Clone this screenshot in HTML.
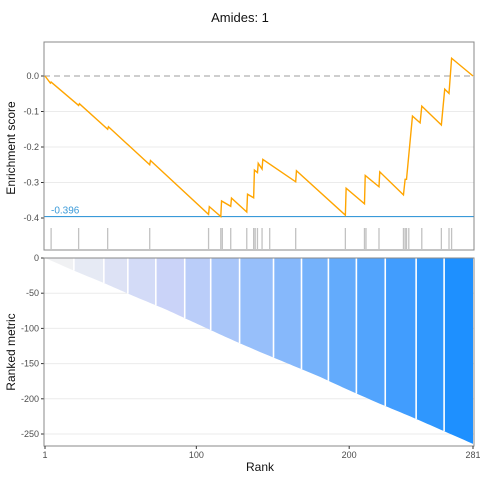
<!DOCTYPE html>
<html><head><meta charset="utf-8"><style>
body{margin:0;background:#fff;font-family:"Liberation Sans",sans-serif}
svg{display:block}
</style></head><body>
<svg id="c" width="480" height="480" xmlns="http://www.w3.org/2000/svg" font-family="Liberation Sans, sans-serif">
<text x="240" y="22" text-anchor="middle" font-size="13" fill="#111">Amides: 1</text>
<g id="topG"></g>
<g id="botG"></g>
<text transform="translate(15,148) rotate(-90)" text-anchor="middle" font-size="12" fill="#111">Enrichment score</text>
<text transform="translate(15,352) rotate(-90)" text-anchor="middle" font-size="12" fill="#111">Ranked metric</text>
<text x="260" y="471" text-anchor="middle" font-size="12" fill="#111">Rank</text>
</svg>
<script>
const esRanks=[1,4.5,5,23,23.5,42,42.5,69.5,70,108,108.5,116,116.5,122.5,123,133,133.5,137.5,138,140,140.5,143,143.5,165,165.5,197.5,198,210,210.5,219.5,220,235.5,236.6,237.5,241.4,246.4,247.5,260.3,262.5,265.3,267,281];
const esValues=[0,-0.02,-0.017,-0.083,-0.078,-0.15,-0.143,-0.25,-0.238,-0.39,-0.368,-0.396,-0.352,-0.367,-0.344,-0.383,-0.333,-0.343,-0.265,-0.272,-0.246,-0.262,-0.235,-0.298,-0.267,-0.392,-0.316,-0.36,-0.28,-0.312,-0.27,-0.335,-0.291,-0.291,-0.113,-0.132,-0.085,-0.138,-0.037,-0.049,0.05,0];
const hitRanks=[5,23,42,69.5,108,116,117,122.5,133,137.5,138.5,140,143,148,165,197.5,210,211,219.5,235.5,236.6,237.5,239,247.5,260.3,265.3,267];
const minES=-0.396;
const esTicks=[0,-0.1,-0.2,-0.3,-0.4];
const metricRanks=[1,20,40,60,80,100,120,140,160,180,200,220,240,260,281];
const metricValues=[0,-18,-36,-55,-73,-93,-113,-132,-150,-168,-188,-207,-225,-244,-264];
const bandEdges=[1,19.9,39.5,55.2,73.5,92.4,109.4,128.3,150.5,168.8,186.4,204.7,223.6,243.8,262.1,281];
const metricTicks=[0,-50,-100,-150,-200,-250];
const xTicks=[1,100,200,281];

const NS="http://www.w3.org/2000/svg";
const L=44,R=474,T1=42,B1=250,T2=258,B2=446;
const xs=r=>45+(r-1)*(473-45)/280;
const ys=v=>76-v*355;
const ym=v=>T2-v*0.704;
function mk(p,tag,a){const e=document.createElementNS(NS,tag);for(const k in a)e.setAttribute(k,a[k]);p.appendChild(e);return e;}
const topG=document.getElementById('topG'),botG=document.getElementById('botG');

esTicks.forEach(t=>{
  if(t<0&&t>-0.35){const g=mk(topG,'line',{x1:L,x2:R,y1:ys(t),y2:ys(t),stroke:'#ebebeb','stroke-width':1});
  }
  const tk=mk(topG,'line',{x1:L-3,x2:L,y1:ys(t),y2:ys(t),stroke:'#333'});
  
  const lb=mk(topG,'text',{x:L-5,y:ys(t)+3,'text-anchor':'end','font-size':9,fill:'#4d4d4d'});
  lb.textContent=t.toFixed(1);
  
});
const z=mk(topG,'line',{x1:L,x2:R,y1:ys(0),y2:ys(0),stroke:'#bdbdbd','stroke-width':1.5,'stroke-dasharray':'6,4'});

const ml=mk(topG,'line',{x1:L,x2:R,y1:ys(minES),y2:ys(minES),stroke:'#3a9ad9','stroke-width':1.2});

const mt=mk(topG,'text',{x:51,y:ys(minES)-3,'font-size':10,fill:'#3a9ad9'});mt.textContent=minES.toFixed(3);

hitRanks.forEach(r=>{const h=mk(topG,'line',{x1:xs(r),x2:xs(r),y1:228,y2:249,stroke:'#777','stroke-width':1.3,'stroke-opacity':0.45});
  });
const pl=mk(topG,'polyline',{points:esRanks.map((r,i)=>xs(r)+','+ys(esValues[i])).join(' '),fill:'none',stroke:'#ffa500','stroke-width':1.4});

const b1=mk(topG,'rect',{x:L,y:T1,width:R-L,height:B1-T1,fill:'none',stroke:'#888','stroke-width':1});


function metricAt(r){for(let i=1;i<metricRanks.length;i++){if(r<=metricRanks[i]){const a=metricRanks[i-1],b=metricRanks[i];return metricValues[i-1]+(metricValues[i]-metricValues[i-1])*(r-a)/(b-a);}}return metricValues[metricValues.length-1];}
metricTicks.forEach(t=>{
  if(t<0){const g=mk(botG,'line',{x1:L,x2:R,y1:ym(t),y2:ym(t),stroke:'#ebebeb'});
  }
  const tk=mk(botG,'line',{x1:L-3,x2:L,y1:ym(t),y2:ym(t),stroke:'#333'});
  
  const lb=mk(botG,'text',{x:L-5,y:ym(t)+3,'text-anchor':'end','font-size':9,fill:'#4d4d4d'});lb.textContent=t;
  
});
const c0=[240,241,243],c1=[200,210,248],c2=[30,144,255];
function col(i,n){const f=i/(n-1);let a,b,t;if(f<0.3){a=c0;b=c1;t=f/0.3;}else{a=c1;b=c2;t=(f-0.3)/0.7;}
  return 'rgb('+a.map((v,k)=>Math.round(v+(b[k]-v)*t)).join(',')+')';}
const nb=bandEdges.length-1;
for(let i=0;i<nb;i++){
  const r0=bandEdges[i],r1=bandEdges[i+1];
  const steps=10;
  const ordered=[[xs(r0),ym(0)],[xs(r1),ym(0)]];
  for(let s=0;s<=steps;s++){const r=r1-(r1-r0)*s/steps;ordered.push([xs(r),ym(metricAt(r))]);}
  const p=mk(botG,'polygon',{points:ordered.map(q=>q.join(',')).join(' '),fill:col(i,nb)});
  
  if(i>0){const s=mk(botG,'line',{x1:xs(r0),x2:xs(r0),y1:ym(0),y2:ym(metricAt(r0)),stroke:'#fff','stroke-width':1.6});
  }
}
const b2=mk(botG,'rect',{x:L,y:T2,width:R-L,height:B2-T2,fill:'none',stroke:'#888','stroke-width':1});

xTicks.forEach(t=>{
  const tk=mk(botG,'line',{x1:xs(t),x2:xs(t),y1:B2,y2:B2+3,stroke:'#333'});
  
  const lb=mk(botG,'text',{x:xs(t),y:B2+12,'text-anchor':'middle','font-size':9,fill:'#4d4d4d'});lb.textContent=t;
  
});
</script>
</body></html>
